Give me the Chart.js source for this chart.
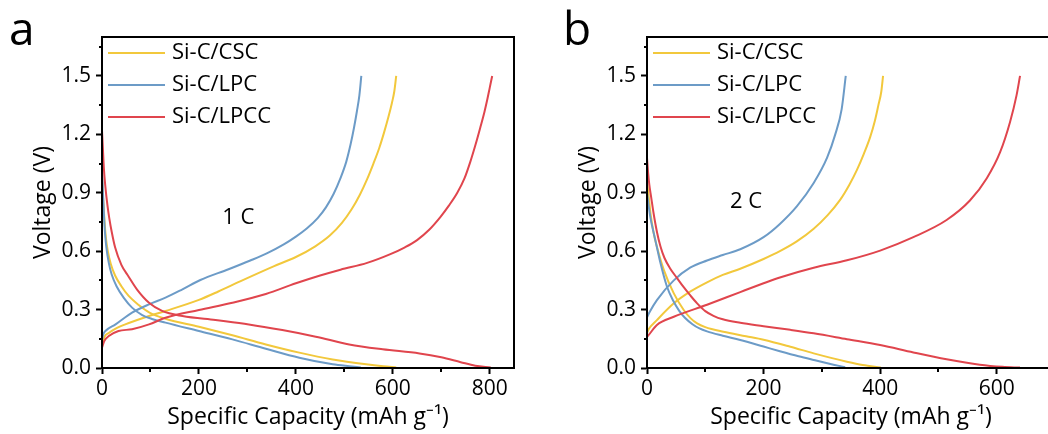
<!DOCTYPE html>
<html>
<head>
<meta charset="utf-8">
<script src="https://cdn.jsdelivr.net/npm/chart.js@4/dist/chart.umd.min.js"></script>
<style>
  html, body { margin: 0; padding: 0; background: #fff; overflow: hidden; }
  body { width: 1048px; height: 434px; position: relative; font-family: "Open Sans", sans-serif; }
  .panel { position: absolute; top: 0; height: 434px; }
  #pa { left: 0; width: 524px; }
  #pb { left: 524px; width: 545px; }
  .tag { position: absolute; top: 4px; font-size: 46px; line-height: 1; color: #000; }
</style>
</head>
<body>
<div class="panel" id="pa"><canvas id="chartA"></canvas></div>
<div class="panel" id="pb"><canvas id="chartB"></canvas></div>
<div class="tag" style="left:9px">a</div>
<div class="tag" style="left:563px">b</div>
<script>
const names = ['Si-C/CSC', 'Si-C/LPC', 'Si-C/LPCC'];
const colors = ['#F2C83C', '#6C9BC7', '#E0454D'];

const yTicks = [0, 0.3, 0.6, 0.9, 1.2, 1.5];
const yMinor = [0.15, 0.45, 0.75, 1.05, 1.35, 1.65];
const xTicksA = [0, 200, 400, 600, 800];
const xMinorA = [100, 300, 500, 700];
const xTicksB = [0, 200, 400, 600];
const xMinorB = [100, 300, 500];

// panel a, 1 C  -- [capacity, voltage]
const a_CSC_dis = [[0,0.98],[2,0.88],[5,0.76],[8,0.67],[12,0.60],[18,0.535],[27,0.475],[40,0.42],[55,0.37],[75,0.325],[98,0.285],[131,0.253],[200,0.212],[269,0.168],[338,0.121],[407,0.079],[476,0.044],[545,0.019],[580,0.009],[607,0.003]];
const a_CSC_chg = [[0,0.12],[5,0.16],[14,0.18],[30,0.205],[48,0.224],[97,0.267],[131,0.293],[200,0.35],[240,0.393],[285,0.445],[354,0.522],[400,0.57],[440,0.625],[470,0.68],[495,0.745],[515,0.815],[532,0.89],[547,0.97],[560,1.05],[572,1.13],[582,1.21],[591,1.29],[598,1.36],[603,1.42],[607,1.50]];
const a_LPC_dis = [[0,1.02],[2,0.90],[4,0.79],[6,0.70],[9,0.62],[14,0.54],[20,0.48],[30,0.42],[45,0.36],[62,0.31],[83,0.272],[103,0.252],[131,0.233],[200,0.19],[269,0.147],[338,0.099],[407,0.053],[476,0.019],[510,0.009],[534,0.003]];
const a_LPC_chg = [[0,0.147],[3,0.175],[7,0.19],[28,0.224],[62,0.284],[97,0.327],[131,0.361],[166,0.404],[203,0.452],[261,0.507],[306,0.552],[341,0.59],[375,0.635],[400,0.675],[423,0.718],[445,0.77],[462,0.825],[478,0.895],[492,0.975],[504,1.06],[513,1.15],[520,1.235],[526,1.32],[531,1.40],[535,1.50]];
const a_LPCC_dis = [[0,1.22],[2,1.12],[4,1.02],[7,0.93],[11,0.84],[15,0.77],[20,0.70],[27,0.62],[40,0.53],[55,0.469],[72,0.404],[97,0.335],[124,0.293],[166,0.267],[234,0.246],[303,0.224],[372,0.195],[441,0.161],[510,0.121],[579,0.096],[655,0.075],[700,0.055],[740,0.03],[770,0.012],[802,0.003]];
const a_LPCC_chg = [[0,0.104],[5,0.14],[14,0.164],[34,0.19],[62,0.199],[97,0.224],[131,0.258],[200,0.298],[269,0.335],[338,0.38],[400,0.435],[450,0.475],[492,0.505],[547,0.54],[595,0.585],[625,0.62],[650,0.657],[675,0.71],[698,0.775],[716,0.835],[733,0.90],[748,0.975],[760,1.06],[771,1.15],[781,1.24],[789,1.315],[795,1.38],[800,1.44],[805,1.50]];

// panel b, 2 C
const b_CSC_dis = [[0,0.955],[3,0.88],[6,0.794],[11,0.70],[17,0.623],[29,0.503],[46,0.383],[63,0.298],[75,0.255],[86,0.229],[100,0.21],[131,0.186],[170,0.163],[200,0.145],[246,0.109],[286,0.075],[343,0.032],[370,0.015],[401,0.003]];
const b_CSC_chg = [[0,0.18],[3,0.20],[17,0.246],[46,0.332],[74,0.392],[103,0.44],[130,0.478],[160,0.51],[200,0.56],[228,0.60],[257,0.65],[286,0.715],[310,0.785],[331,0.862],[347,0.94],[360,1.016],[372,1.10],[383,1.187],[391,1.27],[397,1.35],[402,1.42],[405,1.50]];
const b_LPC_dis = [[0,0.90],[3,0.83],[6,0.77],[11,0.70],[17,0.62],[23,0.54],[34,0.42],[45,0.345],[55,0.295],[65,0.258],[78,0.225],[90,0.203],[103,0.188],[130,0.166],[160,0.144],[200,0.11],[228,0.086],[260,0.06],[286,0.041],[320,0.017],[340,0.004]];
const b_LPC_chg = [[0,0.26],[5,0.29],[17,0.349],[46,0.45],[74,0.515],[103,0.552],[130,0.58],[160,0.61],[200,0.672],[228,0.74],[257,0.83],[286,0.95],[309,1.08],[323,1.2],[334,1.33],[341,1.50]];
const b_LPCC_dis = [[0,1.08],[2,1.00],[4,0.94],[7,0.88],[11,0.80],[17,0.70],[23,0.625],[30,0.565],[40,0.51],[52,0.46],[63,0.415],[75,0.37],[86,0.332],[100,0.292],[114,0.268],[130,0.25],[160,0.232],[200,0.215],[246,0.196],[286,0.178],[343,0.148],[400,0.118],[457,0.08],[514,0.045],[571,0.017],[610,0.006],[640,0.002]];
const b_LPCC_chg = [[0,0.16],[3,0.17],[17,0.221],[46,0.263],[103,0.325],[160,0.39],[200,0.435],[228,0.465],[286,0.515],[343,0.553],[400,0.603],[457,0.672],[514,0.76],[554,0.86],[583,0.975],[606,1.11],[623,1.265],[634,1.40],[640,1.50]];

Chart.defaults.font.family = '"Open Sans", sans-serif';
Chart.defaults.color = '#000';

function line(points, i) {
  return {
    data: points.map(([x, y]) => ({ x, y })),
    borderColor: colors[i],
    borderWidth: 2,
    pointRadius: 0,
    showLine: true,
    cubicInterpolationMode: 'monotone',
    order: 3 - i,
  };
}

// box frame, minor ticks, in-plot legend and rate label
const extras = {
  id: 'extras',
  afterDraw(chart, args, opts) {
    const { ctx, chartArea: a } = chart;
    const x = chart.scales.x, y = chart.scales.y;
    ctx.save();
    ctx.strokeStyle = '#000';
    ctx.lineWidth = 2;
    ctx.strokeRect(a.left, a.top, a.right - a.left, a.bottom - a.top);
    ctx.beginPath();
    yMinor.forEach(v => {
      const py = Math.round(y.getPixelForValue(v));
      ctx.moveTo(a.left - 3, py); ctx.lineTo(a.left, py);
    });
    opts.xMinor.forEach(v => {
      const px = Math.round(x.getPixelForValue(v));
      ctx.moveTo(px, a.bottom); ctx.lineTo(px, a.bottom + 4);
    });
    ctx.stroke();

    ctx.font = '22px "Open Sans"';
    ctx.fillStyle = '#000';
    ctx.textBaseline = 'middle';
    names.forEach((n, i) => {
      const ly = a.top + 16 + i * 32;
      ctx.strokeStyle = colors[i];
      ctx.beginPath();
      ctx.moveTo(a.left + 6, ly); ctx.lineTo(a.left + 63, ly);
      ctx.stroke();
      ctx.textAlign = 'left';
      ctx.fillText(n, a.left + 70, ly);
    });
    ctx.textAlign = 'center';
    ctx.fillText(opts.rate, x.getPixelForValue(opts.ratePos[0]), y.getPixelForValue(opts.ratePos[1]));
    ctx.restore();
  }
};

function makeChart(id, sets, xMax, xTicks, xMinor, rate, ratePos, padLeft, padRight) {
  return new Chart(document.getElementById(id), {
    type: 'scatter',
    data: { datasets: sets },
    plugins: [extras],
    options: {
      responsive: true,
      maintainAspectRatio: false,
      animation: false,
      layout: { padding: { top: 37, right: padRight, bottom: 0, left: padLeft } },
      plugins: {
        legend: { display: false },
        tooltip: { enabled: false },
        extras: { xMinor, rate, ratePos },
      },
      scales: {
        x: {
          type: 'linear', min: 0, max: xMax,
          afterBuildTicks: s => { s.ticks = xTicks.map(v => ({ value: v })); },
          afterFit: s => { s.height = 66; },
          grid: { drawOnChartArea: false, tickLength: 6, tickWidth: 2, tickColor: '#000' },
          border: { color: '#000', width: 2 },
          ticks: { font: { size: 21 }, padding: 2, maxRotation: 0, callback: v => v },
          title: { display: true, text: 'Specific Capacity (mAh g⁻¹)', font: { size: 23 }, padding: { top: 30, bottom: 3 } },
        },
        y: {
          type: 'linear', min: 0, max: 1.7,
          afterBuildTicks: s => { s.ticks = yTicks.map(v => ({ value: v })); },
          afterFit: s => { s.width = 102; },
          grid: { drawOnChartArea: false, tickLength: 6, tickWidth: 2, tickColor: '#000' },
          border: { color: '#000', width: 2 },
          ticks: { font: { size: 21 }, padding: 5, callback: v => v.toFixed(1) },
          title: { display: true, text: 'Voltage (V)', font: { size: 23 }, padding: { top: 30, bottom: 3 } },
        },
      },
    },
  });
}

makeChart('chartA', [
  line(a_CSC_dis, 0), line(a_CSC_chg, 0),
  line(a_LPC_dis, 1), line(a_LPC_chg, 1),
  line(a_LPCC_dis, 2), line(a_LPCC_chg, 2),
], 850, xTicksA, xMinorA, '1 C', [281, 0.77], 0, 10);

makeChart('chartB', [
  line(b_CSC_dis, 0), line(b_CSC_chg, 0),
  line(b_LPC_dis, 1), line(b_LPC_chg, 1),
  line(b_LPCC_dis, 2), line(b_LPCC_chg, 2),
], 700, xTicksB, xMinorB, '2 C', [170, 0.852], 21, 14);
</script>
</body>
</html>
